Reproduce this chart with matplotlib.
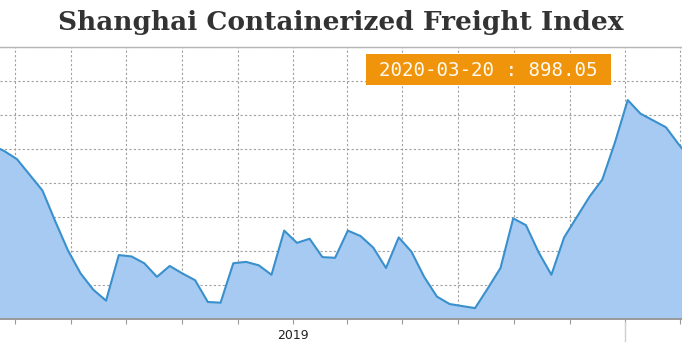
import matplotlib
matplotlib.use("Agg")
import matplotlib.pyplot as plt
import matplotlib.dates as mdates
import matplotlib.transforms as mtransforms
from matplotlib.patches import Rectangle
import pandas as pd

# SCFI, one point every two weeks
inicio = "2018-02-03"
valores = [956, 947, 935, 912, 889, 844, 801, 767, 743, 727, 794, 792, 782, 762,
           778, 767, 757, 725, 724, 782, 784, 779, 765, 830, 812, 818, 791, 790,
           830, 822, 805, 775, 820, 799, 762, 733, 722, 719, 716, 745, 775, 848,
           838, 798, 765, 820, 850, 880, 905, 960, 1022, 1002, 992, 982, 957, 934]
datas = pd.date_range(inicio, periods=len(valores), freq="14D")

titulo = "Shanghai Containerized Freight Index"
rotulo_data = "2020-03-20"
rotulo_valor = 898.05
marcas_x = pd.date_range("2018-03-01", "2020-03-01", freq="2MS")
rotulos_x = ["2019" if d.month == 1 and d.year == 2019 else "" for d in marcas_x]
marcas_y = list(range(700, 1101, 50))

cor_linha = "#3a90cc"
cor_area = "#a6caf1"

fig = plt.figure(figsize=(6.82, 3.51), dpi=100)
ax = fig.add_axes([0, 32 / 351, 1, 272 / 351])

ax.fill_between(datas, valores, 600, color=cor_area, zorder=2, linewidth=0)
ax.plot(datas, valores, color=cor_linha, linewidth=1.5, zorder=3)

ax.set_xlim(pd.Timestamp("2018-02-12 07:00"), pd.Timestamp("2020-03-03 17:00"))
ax.set_ylim(700, 1100)
ax.set_xticks(marcas_x)
ax.set_xticklabels(rotulos_x)
ax.set_yticks(marcas_y)
ax.set_yticklabels([])
ax.tick_params(axis="y", length=0)
ax.tick_params(axis="x", length=3.5, width=0.8, color="#999999", pad=4,
               labelsize=9, labelcolor="#222222")

ax.set_axisbelow(True)
ax.grid(True, color="#a0a0a0", linewidth=0.8, linestyle=(0, (2, 2)))

for lado in ["left", "right"]:
    ax.spines[lado].set_visible(False)
ax.spines["top"].set_color("#b5b5b5")
ax.spines["top"].set_linewidth(1)
ax.spines["bottom"].set_color("#999999")
ax.spines["bottom"].set_linewidth(1.4)
ax.spines["bottom"].set_zorder(4)

# marcador vertical claro em 2020
trans = mtransforms.blended_transform_factory(ax.transData, ax.transAxes)
x2020 = mdates.date2num(pd.Timestamp("2020-01-01"))
ax.plot([x2020, x2020], [-0.01, -0.08], transform=trans, color="#cfcfcf",
        linewidth=1, clip_on=False)

fig.text(0.5, 1 - 30 / 351, titulo, ha="center", va="baseline",
         fontsize=19, fontweight="bold", family="DejaVu Serif", color="#333333")

# caixa laranja com o valor
fig.patches.append(Rectangle((366 / 682, 1 - 85 / 351), 245 / 682, 31 / 351,
                             transform=fig.transFigure, facecolor="#f0950b",
                             edgecolor="none", zorder=5))
fig.text(488.5 / 682, 1 - 70 / 351, f"{rotulo_data} : {rotulo_valor:.2f}",
         ha="center", va="center", fontsize=13.8, family="DejaVu Sans Mono",
         color="#fffaf0", zorder=6)

fig.savefig("out.png", dpi=100, facecolor="white")
